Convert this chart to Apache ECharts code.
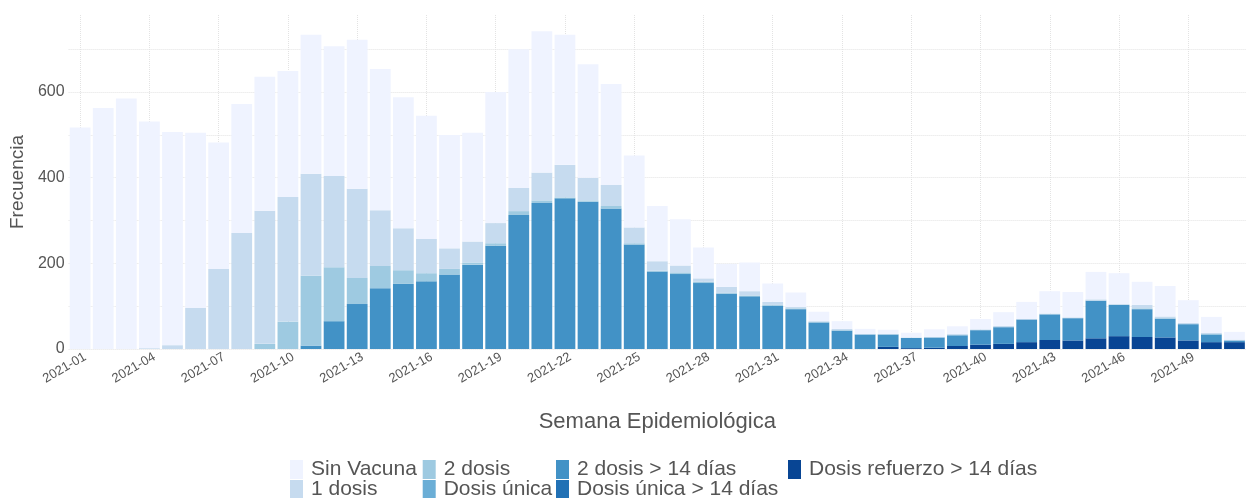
<!DOCTYPE html>
<html>
<head>
<meta charset="utf-8">
<script src="https://cdn.jsdelivr.net/npm/echarts@6/dist/echarts.min.js"></script>
<style>
  html, body { margin: 0; padding: 0; background: #ffffff; }
  #chart { width: 1246px; height: 498px; }
</style>
</head>
<body>
<div id="chart"></div>
<script>
const weeks = ['2021-01','2021-02','2021-03','2021-04','2021-05','2021-06','2021-07','2021-08','2021-09','2021-10',
  '2021-11','2021-12','2021-13','2021-14','2021-15','2021-16','2021-17','2021-18','2021-19','2021-20',
  '2021-21','2021-22','2021-23','2021-24','2021-25','2021-26','2021-27','2021-28','2021-29','2021-30',
  '2021-31','2021-32','2021-33','2021-34','2021-35','2021-36','2021-37','2021-38','2021-39','2021-40',
  '2021-41','2021-42','2021-43','2021-44','2021-45','2021-46','2021-47','2021-48','2021-49','2021-50','2021-51'];

const sinVacuna = [517,563,585,529,498,409,295,301,313,294,
  325,303,348,330,306,288,265,254,306,324,
  330,304,265,236,168,129,108,72,54,67,
  43,34,22,18,12,10,11,18,18,24,
  32,40,52,59,64,72,54,71,53,37,18];

const unaDosis = [0,0,0,2,9,96,187,271,311,291,
  238,213,208,130,98,80,48,49,47,54,
  65,76,53,49,37,22,16,8,14,10,
  7,3,2,3,1,1,1,1,2,2,
  3,1,2,2,3,2,8,4,3,3,2];

const dosDosis = [0,0,0,0,0,0,0,0,12,64,
  163,126,61,52,32,19,13,5,6,9,
  6,2,3,6,3,2,4,3,2,2,
  2,2,1,1,0,0,0,0,1,0,
  0,0,0,0,0,0,2,1,0,1,0];

const dosisUnica = [0,0,0,0,0,0,0,0,0,0,
  0,0,0,0,0,0,0,0,0,0,
  0,0,0,0,0,0,0,0,0,0,
  0,0,0,0,0,0,0,0,0,0,
  0,0,0,0,0,0,0,0,0,0,0];

const dosDosis14 = [0,0,0,0,0,0,0,0,0,0,
  8,65,105,142,152,158,174,197,241,313,
  341,352,344,328,244,181,175,154,129,123,
  101,93,62,43,34,29,24,24,25,34,
  39,53,60,52,88,73,65,44,38,18,4];

const dosisUnica14 = [0,0,0,0,0,0,0,0,0,0,
  0,0,0,0,0,0,0,0,0,0,
  0,0,0,0,0,0,0,0,0,0,
  0,0,0,0,0,0,0,0,0,0,
  0,0,0,0,0,0,0,0,0,0,0];

const refuerzo14 = [0,0,0,0,0,0,0,0,0,0,
  0,0,0,0,0,0,0,0,0,0,
  0,0,0,0,0,0,0,0,0,0,
  0,0,0,0,0,5,2,3,7,10,
  12,16,21,20,25,30,28,27,20,16,16];

const yTicks = [0,200,400,600];

const seriesDefs = [
  { name: 'Dosis refuerzo > 14 días', data: refuerzo14, color: '#084594' },
  { name: 'Dosis única > 14 días', data: dosisUnica14, color: '#2171b5' },
  { name: '2 dosis > 14 días', data: dosDosis14, color: '#4292c6' },
  { name: 'Dosis única', data: dosisUnica, color: '#6baed6' },
  { name: '2 dosis', data: dosDosis, color: '#9ecae1' },
  { name: '1 dosis', data: unaDosis, color: '#c6dbef' },
  { name: 'Sin Vacuna', data: sinVacuna, color: '#eff3ff' }
];

const FONT = '"Liberation Sans", Arial, Helvetica, sans-serif';
const TXT = '#555555';
const GRID = '#e3e3e3';

const chart = echarts.init(document.getElementById('chart'), null, { renderer: 'canvas' });

function legendItem(left, top, name) {
  return {
    orient: 'horizontal',
    left: left,
    top: top,
    padding: 0,
    itemWidth: 13,
    itemHeight: 19,
    icon: 'rect',
    selectedMode: false,
    data: [name],
    textStyle: { fontFamily: FONT, fontSize: 21, color: TXT, padding: [0, 0, 0, 3] }
  };
}

chart.setOption({
  backgroundColor: '#ffffff',
  animation: false,
  textStyle: { fontFamily: FONT },
  grid: { left: 66.4, top: 15, width: 1182, height: 334, containLabel: false },
  legend: [
    legendItem(290, 459, 'Sin Vacuna'),
    legendItem(290, 479, '1 dosis'),
    legendItem(422.7, 459, '2 dosis'),
    legendItem(422.7, 479, 'Dosis única'),
    legendItem(556, 459, '2 dosis > 14 días'),
    legendItem(556, 479, 'Dosis única > 14 días'),
    legendItem(788, 459, 'Dosis refuerzo > 14 días')
  ],
  xAxis: {
    type: 'category',
    data: weeks,
    boundaryGap: true,
    name: 'Semana Epidemiológica',
    nameLocation: 'middle',
    nameGap: 62,
    nameTextStyle: { fontFamily: FONT, fontSize: 22, color: TXT },
    axisLine: { show: false },
    axisTick: { show: false },
    axisLabel: {
      interval: 2,
      rotate: 30,
      fontSize: 13,
      color: TXT,
      fontFamily: FONT,
      margin: 10,
      padding: [0, -6, 0, 0]
    },
    splitLine: {
      show: true,
      interval: 2,
      alignWithLabel: true,
      lineStyle: { color: GRID, type: 'dotted', width: 1 }
    }
  },
  yAxis: {
    type: 'value',
    min: 0,
    max: 780,
    interval: 100,
    name: 'Frecuencia',
    nameLocation: 'middle',
    nameGap: 30,
    nameTextStyle: { fontFamily: FONT, fontSize: 19, color: TXT },
    axisLine: { show: false },
    axisTick: { show: false },
    axisLabel: {
      margin: 4,
      fontSize: 16,
      color: TXT,
      fontFamily: FONT,
      formatter: function (v) { return yTicks.indexOf(v) >= 0 ? String(v) : ''; }
    },
    splitLine: {
      show: true,
      lineStyle: {
        color: [GRID, GRID, GRID, GRID, GRID, GRID, GRID, GRID, 'rgba(0,0,0,0)'],
        type: 'dotted',
        width: 1
      }
    }
  },
  series: seriesDefs.map(function (s) {
    return {
      name: s.name,
      type: 'bar',
      stack: 'total',
      data: s.data,
      barWidth: '90%',
      itemStyle: { color: s.color },
      emphasis: { disabled: true }
    };
  })
});
</script>
</body>
</html>
